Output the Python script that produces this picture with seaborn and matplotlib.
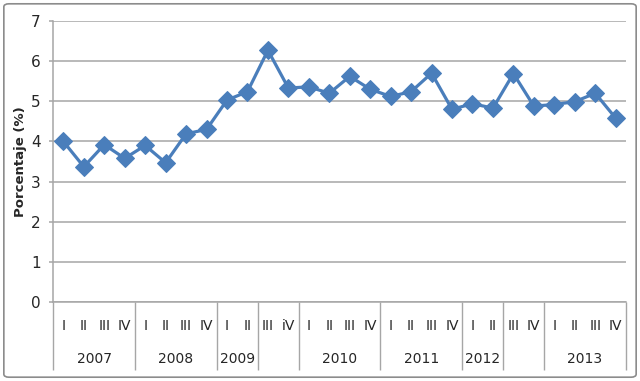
import matplotlib.pyplot as plt
import seaborn as sns
import pandas as pd
from matplotlib.patches import FancyBboxPatch

# data
quarters = ["I", "II", "III", "IV", "I", "II", "III", "IV", "I", "II", "III", "iV",
            "I", "II", "III", "IV", "I", "II", "III", "IV", "I", "II", "III", "IV",
            "I", "II", "III", "IV"]
values = [4.0, 3.37, 3.92, 3.58, 3.9, 3.47, 4.19, 4.3, 5.03, 5.24, 6.27, 5.33,
          5.36, 5.2, 5.62, 5.3, 5.12, 5.24, 5.7, 4.8, 4.94, 4.83, 5.69, 4.88,
          4.92, 4.99, 5.2, 4.58]
year_labels = ["2007", "2008", "2009", "", "2010", "2011", "2012", "", "2013"]
year_sizes = [4, 4, 2, 2, 4, 4, 2, 2, 4]

df = pd.DataFrame({"pos": range(len(values)), "valor": values})

sns.set_style("white")
plt.rcParams['font.family'] = ['Liberation Sans Narrow', 'DejaVu Sans']
grid_c = "#a6a6a6"
blue = "#4a7ebb"

fig = plt.figure(figsize=(6.4, 3.81), dpi=100)
ax1 = fig.add_axes([0.083, 0.207, 0.895, 0.738])

g = sns.lineplot(x="pos", y="valor", data=df, ax=ax1, color=blue, linewidth=2.3,
                 marker="D", markersize=9, markeredgecolor=blue)

ax1.set_xlim(-0.5, len(values) - 0.5)
ax1.set_ylim(0, 7)
ax1.set_yticks(range(0, 8))
ax1.yaxis.grid(True, color=grid_c, linewidth=1.1)
ax1.set_axisbelow(True)
ax1.tick_params(axis='y', which='major', length=3, width=1.1, color=grid_c,
                direction='out', labelsize=11, pad=6, left=True)
for axis in ['top', 'right']:
    ax1.spines[axis].set_visible(False)
for axis in ['left', 'bottom']:
    ax1.spines[axis].set_color(grid_c)
    ax1.spines[axis].set_linewidth(1.1)

# quarter labels
ax1.set_xticks(df["pos"])
ax1.set_xticklabels(quarters)
ax1.tick_params(axis='x', which='major', length=0, labelsize=10, pad=12)
ax1.set_xlabel("")
ax1.set_ylabel("Porcentaje (%)", fontdict=dict(weight='bold', size=9.5,
               family=['DejaVu Sans']), labelpad=3)

# year labels
ax2 = ax1.twiny()
ax3 = ax1.twiny()
bounds = [-0.5]
for s in year_sizes:
    bounds.append(bounds[-1] + s)
centers = [(bounds[i] + bounds[i + 1]) / 2 for i in range(len(year_sizes))]
ax2.set_xticks(centers)
ax2.set_xticklabels(year_labels)
ax2.xaxis.set_ticks_position('bottom')
ax2.tick_params(which='major', length=0, labelsize=10, pad=36)
ax2.set_xlim(ax1.get_xlim())

# group separators
ax3.set_xticks(bounds)
ax3.set_xticklabels([''] * len(bounds))
ax3.xaxis.set_ticks_position('bottom')
ax3.tick_params(which='major', length=49, width=1.0, color=grid_c, direction='out')
ax3.set_xlim(ax1.get_xlim())

for a in (ax2, ax3):
    for s in a.spines.values():
        s.set_visible(False)

# outer chart border
fig.patches.append(FancyBboxPatch((0.006, 0.01), 0.988, 0.98,
                                  boxstyle="round,pad=0,rounding_size=0.008",
                                  transform=fig.transFigure, fill=False,
                                  edgecolor="#8c8c8c", linewidth=1.2))

fig.savefig("out.png", dpi=100)
